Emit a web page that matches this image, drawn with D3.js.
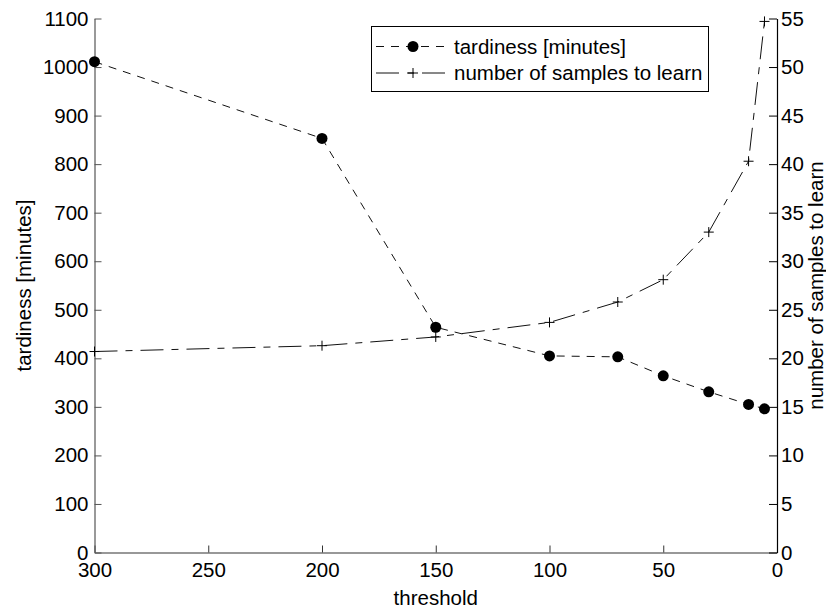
<!DOCTYPE html>
<html>
<head>
<meta charset="utf-8">
<script src="https://cdn.jsdelivr.net/npm/d3@7"></script>
<style>
  html, body { margin: 0; padding: 0; background: #fff; }
  svg { display: block; font-family: "Liberation Sans", Arial, Helvetica, sans-serif; }
</style>
</head>
<body>
<svg id="chart" width="826" height="608"></svg>
<script>
// Threshold values (x) shared by both series
const thresholds = [300, 200, 150, 100, 70, 50, 30, 12.5, 5.5];
// Left axis series: tardiness in minutes
const tardiness = [1011, 853, 464, 405, 403, 364, 331, 305, 296];
// Right axis series: number of samples needed to learn
const samples = [20.7, 21.3, 22.2, 23.7, 25.8, 28.1, 33.0, 40.3, 54.7];

const xTicks = [300, 250, 200, 150, 100, 50, 0];
const leftTicks = [0, 100, 200, 300, 400, 500, 600, 700, 800, 900, 1000, 1100];
const rightTicks = [0, 5, 10, 15, 20, 25, 30, 35, 40, 45, 50, 55];

const labels = {
  x: "threshold",
  left: "tardiness [minutes]",
  right: "number of samples to learn",
  legendTardiness: "tardiness [minutes]",
  legendSamples: "number of samples to learn"
};

const FONT = 20.5;
const plot = { left: 94.5, right: 777, top: 18.5, bottom: 552.5 };

const svg = d3.select("#chart");

const x = d3.scaleLinear().domain([300, 0]).range([plot.left, plot.right]);
const yL = d3.scaleLinear().domain([0, 1100]).range([plot.bottom, plot.top]);
const yR = d3.scaleLinear().domain([0, 55]).range([plot.bottom, plot.top]);

// Axes: ticks point into the plot area
function styleAxis(g, color) {
  g.selectAll("path.domain").attr("stroke", color).attr("stroke-width", 1.2);
  g.selectAll(".tick line").attr("stroke", color).attr("stroke-width", 1);
  g.selectAll(".tick text").attr("fill", "#000").style("font-size", FONT + "px")
    .style("font-family", "'Liberation Sans', Arial, Helvetica, sans-serif");
}

svg.append("g")
  .attr("transform", `translate(0,${plot.bottom})`)
  .call(d3.axisBottom(x).tickValues(xTicks).tickFormat(d3.format("d"))
    .tickSizeInner(-7).tickSizeOuter(0).tickPadding(10))
  .call(g => styleAxis(g, "#333"));

svg.append("g")
  .attr("transform", `translate(${plot.left},0)`)
  .call(d3.axisLeft(yL).tickValues(leftTicks).tickFormat(d3.format("d"))
    .tickSizeInner(-7).tickSizeOuter(0).tickPadding(6))
  .call(g => styleAxis(g, "#555"));

svg.append("g")
  .attr("transform", `translate(${plot.right},0)`)
  .call(d3.axisRight(yR).tickValues(rightTicks).tickFormat(d3.format("d"))
    .tickSizeInner(-8).tickSizeOuter(0).tickPadding(4))
  .call(g => styleAxis(g, "#000"));

// Axis titles
svg.append("text")
  .attr("x", (plot.left + plot.right) / 2).attr("y", 598)
  .attr("text-anchor", "middle").attr("dy", "0.35em")
  .style("font-size", FONT + "px").text(labels.x);

svg.append("text")
  .attr("transform", `translate(24,${(plot.top + plot.bottom) / 2}) rotate(-90)`)
  .attr("text-anchor", "middle").attr("dy", "0.35em")
  .style("font-size", FONT + "px").text(labels.left);

svg.append("text")
  .attr("transform", `translate(816,${(plot.top + plot.bottom) / 2}) rotate(-90)`)
  .attr("text-anchor", "middle").attr("dy", "0.35em")
  .style("font-size", FONT + "px").text(labels.right);

const DASH_T = "8,7";
const DASH_S = "23,8,7,8";
const LINE_COLOR = "#111";

// Tardiness line with filled circle markers
const tData = thresholds.map((t, i) => ({ t, v: tardiness[i] }));
const sData = thresholds.map((t, i) => ({ t, v: samples[i] }));

svg.append("path")
  .datum(tData)
  .attr("fill", "none").attr("stroke", LINE_COLOR).attr("stroke-width", 1)
  .attr("stroke-dasharray", DASH_T)
  .attr("d", d3.line().x(d => x(d.t)).y(d => yL(d.v)));

// Samples line with plus markers (right axis)
svg.append("path")
  .datum(sData)
  .attr("fill", "none").attr("stroke", LINE_COLOR).attr("stroke-width", 1)
  .attr("stroke-dasharray", DASH_S)
  .attr("d", d3.line().x(d => x(d.t)).y(d => yR(d.v)));

svg.append("g").selectAll("circle")
  .data(tData).join("circle")
  .attr("cx", d => x(d.t)).attr("cy", d => yL(d.v)).attr("r", 5.5)
  .attr("fill", "#000");

const PLUS = 5;
function plus(g, cx, cy) {
  g.append("path")
    .attr("d", `M${cx - PLUS},${cy}H${cx + PLUS}M${cx},${cy - PLUS}V${cy + PLUS}`)
    .attr("stroke", "#000").attr("stroke-width", 1).attr("fill", "none");
}
const plusG = svg.append("g");
sData.forEach(d => plus(plusG, x(d.t), yR(d.v)));

// Legend
const legend = svg.append("g");
legend.append("rect")
  .attr("x", 371.5).attr("y", 26.5).attr("width", 337).attr("height", 65)
  .attr("fill", "#fff").attr("stroke", "#000").attr("stroke-width", 1);

const rows = [
  { y: 46.5, dash: DASH_T, text: labels.legendTardiness, marker: "circle" },
  { y: 73, dash: DASH_S, text: labels.legendSamples, marker: "plus" }
];
rows.forEach(r => {
  legend.append("line")
    .attr("x1", 376).attr("x2", 449).attr("y1", r.y).attr("y2", r.y)
    .attr("stroke", LINE_COLOR).attr("stroke-width", 1)
    .attr("stroke-dasharray", r.dash);
  if (r.marker === "circle") {
    legend.append("circle").attr("cx", 413).attr("cy", r.y).attr("r", 5.5).attr("fill", "#000");
  } else {
    plus(legend, 413, r.y);
  }
  legend.append("text")
    .attr("x", 454).attr("y", r.y).attr("dy", "0.35em")
    .style("font-size", FONT + "px").text(r.text);
});
</script>
</body>
</html>
